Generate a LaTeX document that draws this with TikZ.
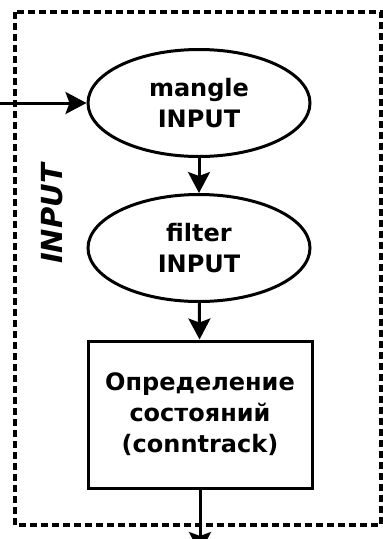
\documentclass[tikz,border=0pt]{standalone}
\usepackage{fontspec}
\setmainfont{DejaVu Sans}
\usetikzlibrary{shapes.geometric,arrows.meta}
\tikzset{
  x=1pt, y=-1pt,
  line/.style={line width=3pt},
  flow/.style={line, -{Stealth[length=21pt,width=22pt,inset=4pt]}},
  chain/.style={draw, line width=3pt, ellipse, minimum width=222pt, minimum height=107pt,
    font=\fontsize{24}{31}\selectfont\bfseries, align=center, inner sep=0pt},
  stage/.style={draw, line width=3pt, rectangle, minimum width=224pt, minimum height=147pt,
    font=\fontsize{24}{31}\selectfont\bfseries, align=center, inner sep=0pt},
  frame/.style={draw, line width=3.5pt, dash pattern=on 7pt off 4pt},
}
\begin{document}
\begin{tikzpicture}
\useasboundingbox (0,0) rectangle (383,539);
% table frame
\draw[frame] (15,12) rectangle (381,525);
\node[rotate=90, font=\fontsize{29}{34}\selectfont\bfseries\itshape] (tbl) at (52,214) {INPUT};
% chains
\node[chain] (mangle) at (199,103) {mangle\\INPUT};
\node[chain] (filter) at (199,248) {filter\\INPUT};
\node[stage] (ct) at (200,414.5) {Определение\\состояний\\(conntrack)};
% connectors
\coordinate (in) at (-5,103);
\coordinate (out) at (200,553);
\draw[flow] (in) -- (mangle);
\draw[flow] (mangle) -- (filter);
\draw[flow] (filter) -- (ct);
\draw[flow] (ct) -- (out);
\end{tikzpicture}
\end{document}
